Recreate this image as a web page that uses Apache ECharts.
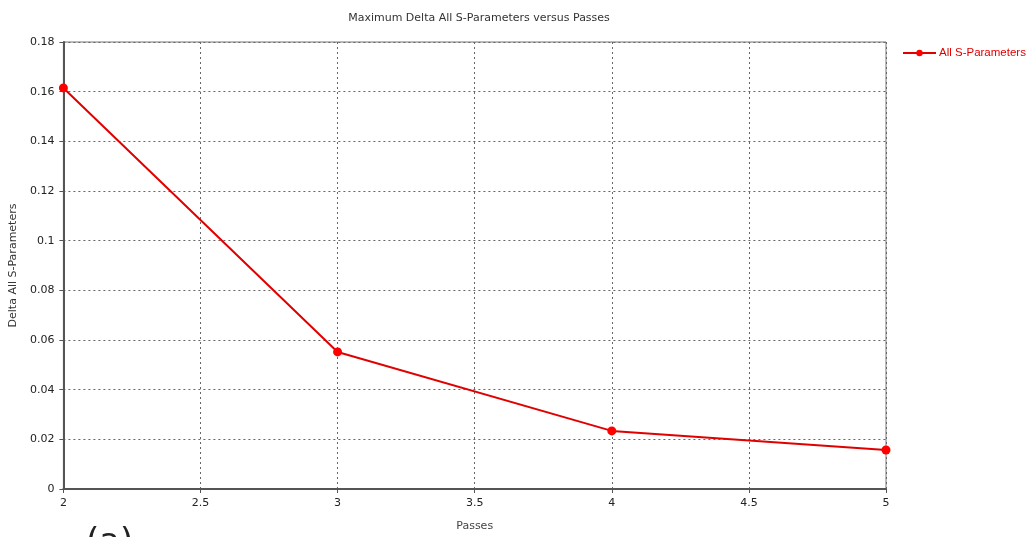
<!DOCTYPE html>
<html>
<head>
<meta charset="utf-8">
<script src="https://cdn.jsdelivr.net/npm/echarts@6/dist/echarts.min.js"></script>
<style>
  html, body { margin: 0; padding: 0; background: #fff; }
  #chart { width: 1028px; height: 537px; }
</style>
</head>
<body>
<div id="chart"></div>
<script>
// passes vs max delta
const passes = [2, 3, 4, 5];
const deltaS = [0.1615, 0.0552, 0.0234, 0.0157];
const seriesName = 'All S-Parameters';

const chart = echarts.init(document.getElementById('chart'));

const font = 'DejaVu Sans, Verdana, sans-serif';

const option = {
  animation: false,
  backgroundColor: '#fff',
  title: {
    text: 'Maximum Delta All S-Parameters versus Passes',
    left: 474,
    textAlign: 'center',
    top: 8,
    textStyle: { fontSize: 11, fontWeight: 'normal', color: '#333', fontFamily: font }
  },
  legend: {
    data: [seriesName],
    left: 902,
    top: 47,
    padding: 0,
    itemWidth: 33,
    itemHeight: 8,
    itemGap: 4,
    textStyle: { color: '#e00000', fontSize: 11.5, fontFamily: 'Liberation Sans, Arial, sans-serif', padding: [0, 0, 0, -2] }
  },
  grid: {
    left: 63,
    right: 142,
    top: 42,
    bottom: 48,
    show: true,
    borderColor: '#777',
    borderWidth: 1
  },
  xAxis: {
    type: 'value',
    min: 2,
    max: 5,
    interval: 0.5,
    name: 'Passes',
    nameLocation: 'middle',
    nameGap: 32,
    nameTextStyle: { fontSize: 11, color: '#444', fontFamily: font },
    axisLine: { lineStyle: { color: '#555', width: 2 } },
    axisTick: { show: true, length: 4, lineStyle: { color: '#555' } },
    axisLabel: { fontSize: 11, color: '#222', fontFamily: font, margin: 9 },
    splitLine: { lineStyle: { color: '#666', type: [2, 3], width: 1 } }
  },
  yAxis: {
    type: 'value',
    min: 0,
    max: 0.18,
    interval: 0.02,
    name: 'Delta All S-Parameters',
    nameLocation: 'middle',
    nameGap: 44,
    nameTextStyle: { fontSize: 11, color: '#333', fontFamily: font },
    axisLine: { show: true, lineStyle: { color: '#555', width: 2 } },
    axisTick: { show: true, length: 4, lineStyle: { color: '#555' } },
    axisLabel: {
      fontSize: 11, color: '#222', fontFamily: font, margin: 9,
      formatter: function(v) { return String(Math.round(v * 100) / 100); }
    },
    splitLine: { lineStyle: { color: '#666', type: [2, 3], width: 1 } }
  },
  series: [
    {
      name: seriesName,
      type: 'line',
      data: passes.map((p, i) => [p, deltaS[i]]),
      symbol: 'circle',
      symbolSize: 9,
      lineStyle: { color: '#e00000', width: 2 },
      itemStyle: { color: '#ff0000' }
    }
  ],
  graphic: [
    {
      type: 'text',
      left: 86,
      top: 526,
      style: { text: '(a)', fontSize: 34, fill: '#222', fontFamily: font }
    }
  ]
};

chart.setOption(option);
</script>
</body>
</html>
